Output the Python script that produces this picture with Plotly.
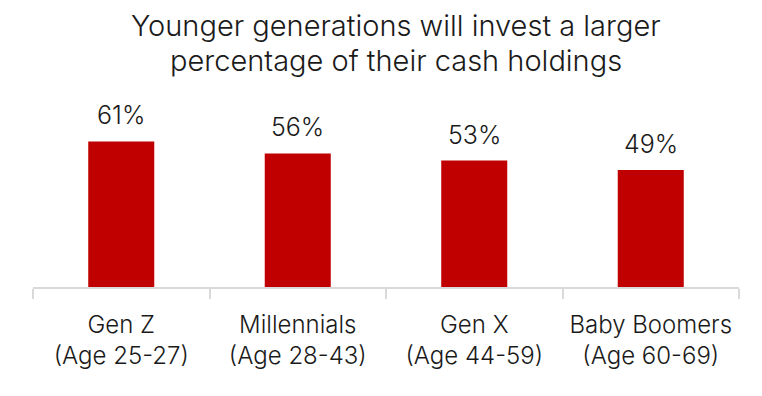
import plotly.graph_objects as go

categories = ["Gen Z<br>(Age 25-27)", "Millennials<br>(Age 28-43)", "Gen X<br>(Age 44-59)", "Baby Boomers<br>(Age 60-69)"]
values = [61, 56, 53, 49]
value_labels = ["61%", "56%", "53%", "49%"]
title_lines = ["Younger generations will invest a larger", "percentage of their cash holdings"]

FONT = "Inter"
fig = go.Figure()
fig.add_trace(go.Bar(x=categories, y=values, marker=dict(color="#C00000", line=dict(width=0)),
                     hoverinfo="skip"))

for c, v, lab in zip(categories, values, value_labels):
    fig.add_annotation(x=c, y=v, text=lab, showarrow=False, yanchor="bottom", yshift=9,
                       font=dict(family=FONT, size=25, color="#1a1a1a", weight=300))

for i, line in enumerate(title_lines):
    fig.add_annotation(xref="paper", yref="paper", x=0.5 + 10/706, y=1, yanchor="middle",
                       yshift=[94.5, 59.5][i], text=line, showarrow=False, borderpad=0,
                       font=dict(family=FONT, size=29, color="#1a1a1a", weight=300))

fig.update_layout(
    width=762, height=396,
    margin=dict(l=25, r=31, t=112, b=117),
    paper_bgcolor="white", plot_bgcolor="white",
    bargap=0.626, showlegend=False,
    font=dict(family=FONT, color="#1a1a1a", weight=300),
    xaxis=dict(showline=True, linecolor="#D9D9D9", linewidth=2, tickson="boundaries",
               ticks="outside", ticklen=10, tickwidth=2, tickcolor="#D9D9D9",
               ticklabelstandoff=15,
               tickfont=dict(family=FONT, size=24, color="#1a1a1a", weight=300),
               showgrid=False, fixedrange=True),
    yaxis=dict(range=[0, 70], visible=False, fixedrange=True),
)
fig.write_html("out.html")
